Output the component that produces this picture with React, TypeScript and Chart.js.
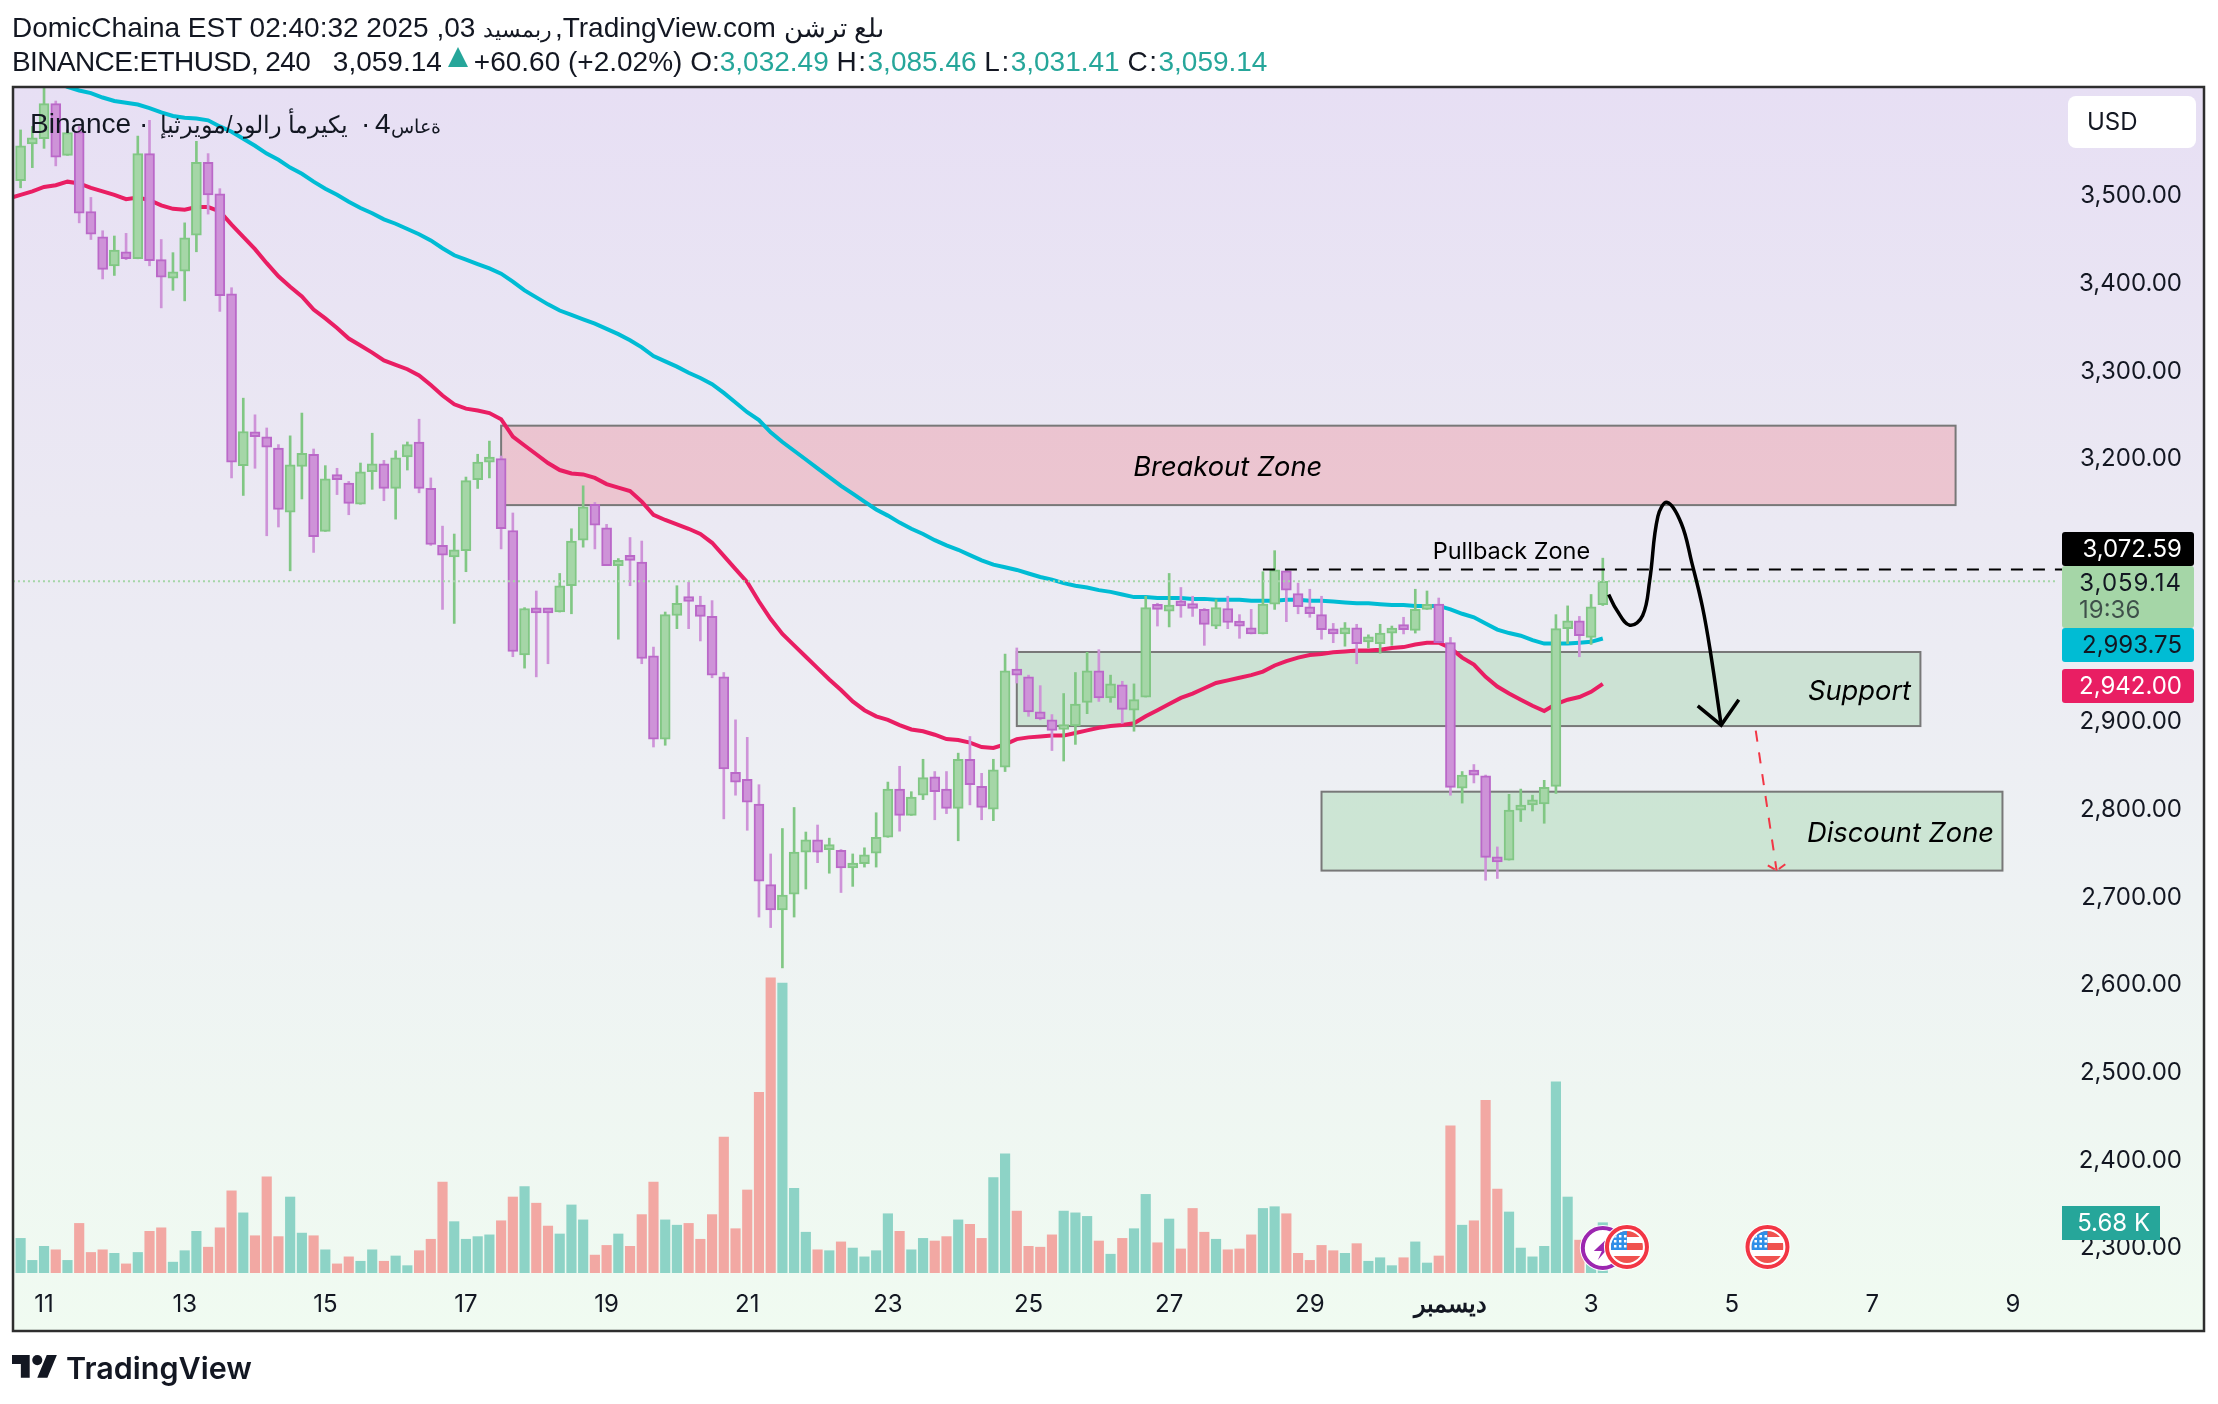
import React, { useEffect, useRef } from 'react'
import { Chart, registerables } from 'chart.js'

Chart.register(...registerables)

// 4h candles, bar 0 is two bars before the "11" tick
const opens = [
  3516,3558,3564,3604,3545,3572,3481,3452,3419,3435,
  3427,3547,3426,3405,3413,3454,3537,3501,3387,3191,
  3226,3224,3211,3138,3190,3204,3116,3177,3171,3147,
  3184,3193,3165,3201,3218,3165,3100,3087,3094,3175,
  3195,3199,3117,2975,3028,3024,3024,3054,3106,3147,
  3120,3077,3084,3081,2974,2879,3020,3037,3032,3019,
  2950,2841,2833,2805,2713,2684,2702,2750,2764,2753,
  2752,2732,2737,2749,2767,2822,2792,2815,2836,2822,
  2800,2856,2825,2799,2847,2959,2950,2910,2901,2890,
  2894,2921,2957,2926,2941,2912,2927,3028,3025,3033,
  3031,3027,3008,3028,3013,3006,2999,3033,3071,3045,
  3030,3021,3003,2999,3006,2990,2988,3000,3005,3003,
  3027,3033,2989,2823,2840,2837,2744,2741,2798,2804,
  2805,2825,3005,3014,2995,3032.49,
]
const highs = [
  3574,3578,3630,3607,3574,3578,3497,3459,3453,3456,
  3567,3585,3449,3434,3468,3561,3547,3507,3394,3268,
  3249,3234,3215,3225,3251,3210,3191,3188,3173,3194,
  3228,3197,3208,3218,3244,3177,3122,3113,3178,3204,
  3219,3202,3137,3029,3048,3028,3068,3119,3168,3149,
  3124,3085,3109,3105,2984,3024,3054,3058,3042,3037,
  2955,2901,2881,2827,2748,2777,2801,2773,2781,2766,
  2753,2748,2755,2795,2830,2848,2819,2856,2842,2842,
  2863,2882,2840,2856,2976,2983,2952,2940,2907,2931,
  2955,2978,2981,2952,2945,2942,3042,3034,3068,3052,
  3042,3028,3038,3042,3021,3027,3070,3094,3072,3057,
  3050,3042,3011,3012,3010,2998,3010,3008,3018,3050,
  3048,3040,2995,2842,2850,2838,2756,2816,2822,2815,
  2832,3021,3031,3019,3044,3085.46,
]
const lows = [
  3508,3531,3553,3533,3545,3468,3449,3404,3408,3426,
  3427,3419,3371,3391,3379,3435,3478,3367,3177,3157,
  3188,3111,3121,3071,3153,3092,3116,3158,3135,3147,
  3164,3151,3130,3186,3160,3100,3027,3011,3070,3165,
  3177,3096,2973,2960,2950,2965,3024,3022,3098,3096,
  3077,2993,3054,2965,2870,2872,3005,3005,2991,2949,
  2788,2815,2775,2676,2664,2618,2676,2708,2738,2726,
  2704,2711,2733,2733,2767,2774,2792,2810,2787,2794,
  2763,2804,2787,2786,2842,2943,2905,2901,2866,2854,
  2873,2908,2922,2921,2897,2888,2927,3008,3007,3018,
  3019,2986,3005,3005,2994,2999,2999,3027,3013,3022,
  3018,2993,2989,2985,2965,2983,2977,2986,2999,3000,
  3027,2989,2815,2806,2829,2718,2720,2741,2785,2797,
  2783,2817,2988,2973,2987,3031.41,
]
const closes = [
  3556,3565,3604,3543,3571,3479,3455,3415,3437,3427,
  3547,3425,3406,3412,3451,3537,3500,3385,3195,3230,
  3224,3212,3141,3192,3205,3110,3176,3175,3148,3184,
  3193,3165,3200,3215,3165,3101,3089,3095,3174,3195,
  3200,3119,2979,3028,3023,3023,3054,3105,3144,3123,
  3077,3083,3083,2971,2879,3021,3034,3036,3019,2952,
  2845,2830,2807,2717,2684,2701,2750,2764,2750,2754,
  2732,2737,2747,2767,2822,2792,2813,2835,2819,2800,
  2856,2827,2801,2844,2957,2952,2910,2902,2889,2893,
  2919,2957,2926,2942,2913,2924,3029,3027,3032,3031,
  3028,3010,3029,3012,3008,2999,3033,3072,3049,3030,
  3022,3004,2999,3006,2988,2992,3000,3005,3004,3027,
  3032,2989,2824,2838,2838,2744,2739,2798,2803,2806,
  2824,3005,3014,2997,3030,3059.14,
]
// volume in thousands
const volumes = [
  3.9,1.4,3.0,2.6,1.4,5.6,2.3,2.6,2.2,1.0,
  2.3,4.7,5.1,1.2,2.5,4.7,2.9,5.1,9.3,6.8,
  4.2,10.9,4.1,8.6,4.5,4.2,2.6,1.0,1.8,1.3,
  2.6,1.3,1.9,0.8,2.5,3.8,10.3,5.8,3.8,4.1,
  4.3,5.9,8.6,9.8,7.9,5.3,4.4,7.7,6.0,2.0,
  3.1,4.4,3.0,6.6,10.3,6.0,5.4,5.6,3.8,6.6,
  15.4,5.0,9.4,20.5,33.5,32.9,9.6,4.6,2.6,2.5,
  3.5,2.8,1.8,2.5,6.7,4.7,2.6,3.9,3.6,4.1,
  6.0,5.5,3.9,10.8,13.5,7.0,3.0,2.9,4.3,7.0,
  6.8,6.4,3.6,2.1,3.9,5.0,8.9,3.4,6.1,2.7,
  7.3,4.6,3.8,2.6,2.7,4.3,7.3,7.5,6.7,2.2,
  1.4,3.1,2.5,2.2,3.3,1.3,1.7,0.8,1.7,3.5,
  1.1,1.9,16.7,5.4,5.9,19.6,9.5,6.9,2.8,1.8,
  3.0,21.7,8.6,3.7,1.1,5.68,
]
// moving averages, first entry sits one bar before bar 0 so the line reaches the frame
const maFast = [
  3496,3500,3504,3509,3511,3515,3513,3508,3504,3500,3495,
  3497,3494,3488,3484,3483,3486,3486,3481,3466,3452,
  3438,3422,3407,3395,3384,3369,3359,3348,3336,3328,
  3320,3311,3306,3301,3294,3283,3271,3261,3256,3254,
  3251,3244,3224,3214,3204,3194,3186,3182,3181,3177,
  3170,3166,3162,3150,3135,3129,3124,3119,3113,3103,
  3088,3073,3058,3036,3016,2999,2986,2973,2960,2947,
  2935,2922,2912,2905,2901,2895,2890,2888,2884,2879,
  2878,2875,2870,2869,2873,2879,2881,2882,2883,2883,
  2886,2889,2892,2894,2895,2897,2905,2912,2919,2926,
  2931,2937,2943,2946,2949,2952,2956,2963,2968,2972,
  2975,2976,2978,2979,2980,2980,2981,2983,2984,2987,
  2989,2989,2983,2972,2964,2950,2939,2931,2924,2917,
  2911,2919,2924,2927,2933,2942,
]
const maSlow = [
  3670,3660,3650,3640,3630,3623,3619,3616,3611,3607,3605,
  3603,3599,3594,3590,3588,3587,3585,3578,3572,3564,
  3556,3547,3540,3531,3524,3515,3507,3500,3492,3485,
  3479,3472,3467,3461,3455,3448,3439,3431,3426,3421,
  3416,3410,3401,3391,3383,3375,3368,3363,3358,3353,
  3347,3341,3334,3326,3316,3310,3304,3297,3291,3284,
  3274,3263,3252,3243,3229,3218,3208,3198,3188,3178,
  3168,3159,3150,3141,3134,3126,3119,3113,3106,3100,
  3095,3089,3083,3078,3075,3072,3068,3064,3061,3057,
  3054,3052,3049,3047,3044,3041,3041,3040,3040,3040,
  3039,3039,3038,3038,3038,3037,3037,3037,3038,3038,
  3037,3037,3036,3035,3034,3034,3033,3032,3032,3031,
  3031,3031,3027,3022,3018,3011,3004,3000,2997,2992,
  2988,2988,2988,2989,2990,2993.75,
]

const priceTicks = [3500, 3400, 3300, 3200, 2900, 2800, 2700, 2600, 2500, 2400, 2300]
const dateTickBars = [2, 14, 26, 38, 50, 62, 74, 86, 98, 110, 122, 134, 146, 158, 170]
const dateTickLabels = ['11', '13', '15', '17', '19', '21', '23', '25', '27', '29', 'ديسمبر', '3', '5', '7', '9']

const zoneNames = ['Breakout Zone', 'Support', 'Discount Zone']
const zoneStartBars = [41, 85, 111]
const zoneEndBars = [165.1, 162.1, 169.1]
const zoneTops = [3236.6, 2978.4, 2819]
const zoneBottoms = [3146, 2893.9, 2729]
const zoneTextBars = [103, 156.9, 160.4]
const zoneTextPrices = [3188.5, 2933, 2771]

const curveBars = [135.5, 136.2, 137.3, 138.4, 139, 139.7, 140.5, 141.7, 142.6, 143.5, 144.2, 145.1]
const curvePrices = [3044, 3026, 3009, 3020, 3060, 3133, 3149, 3125, 3080, 3030, 2977, 2895]
const headBars = [143.1, 145.1, 146.6]
const headPrices = [2917, 2895, 2924]
const targetBars = [148.05, 149.83]
const targetPrices = [2888.6, 2729]
const targetHeadBars = [149.08, 149.83, 150.85]
const targetHeadPrices = [2735, 2729, 2739]

const lastPrice = 3059.14
const pullbackPrice = 3072.59
const eventBars = [137.06, 149.05]

const W = 2218
const H = 1404
const FRAME = { left: 13, top: 87, right: 2204, bottom: 1331 }
const TEXT = '#131722'
const TEAL = '#26a69a'
const INTER = 'Inter, "Noto Sans", sans-serif'

const money = (v: number) =>
  v.toLocaleString('en-US', { minimumFractionDigits: 2, maximumFractionDigits: 2 })

const rising = (i: number) => closes[i] >= opens[i]

function priceTag(ctx: any, top: number, h: number, fill: string, color: string, label: string) {
  ctx.fillStyle = fill
  ctx.beginPath()
  ctx.roundRect(2062, top, 132, h, 3)
  ctx.fill()
  ctx.fillStyle = color
  ctx.textAlign = 'right'
  ctx.textBaseline = 'middle'
  ctx.fillText(label, 2182, top + 18)
}

function flagIcon(ctx: any, cx: number, cy: number) {
  ctx.save()
  ctx.fillStyle = '#ffffff'
  ctx.beginPath()
  ctx.arc(cx, cy, 23, 0, Math.PI * 2)
  ctx.fill()
  ctx.strokeStyle = '#f23645'
  ctx.lineWidth = 4
  ctx.beginPath()
  ctx.arc(cx, cy, 20, 0, Math.PI * 2)
  ctx.stroke()
  ctx.beginPath()
  ctx.arc(cx, cy, 16, 0, Math.PI * 2)
  ctx.clip()
  ctx.fillStyle = '#f0524f'
  ctx.fillRect(cx - 16, cy - 16, 32, 6)
  ctx.fillRect(cx - 16, cy - 4, 32, 7)
  ctx.fillRect(cx - 16, cy + 9, 32, 7)
  ctx.fillStyle = '#2f8fe8'
  ctx.fillRect(cx - 16, cy - 16, 16, 19)
  ctx.fillStyle = '#ffffff'
  for (let r = 0; r < 3; r++) {
    for (let c = 0; c < 3; c++) {
      ctx.fillRect(cx - 13 + c * 5, cy - 12 + r * 5, 2.5, 2.5)
    }
  }
  ctx.restore()
}

function boltIcon(ctx: any, cx: number, cy: number) {
  ctx.save()
  ctx.fillStyle = '#ffffff'
  ctx.beginPath()
  ctx.arc(cx, cy, 23, 0, Math.PI * 2)
  ctx.fill()
  ctx.strokeStyle = '#9c27b0'
  ctx.lineWidth = 4
  ctx.beginPath()
  ctx.arc(cx, cy, 20, 0, Math.PI * 2)
  ctx.stroke()
  ctx.fillStyle = '#9c27b0'
  ctx.beginPath()
  ctx.moveTo(cx + 7, cy - 12)
  ctx.lineTo(cx - 9, cy + 3)
  ctx.lineTo(cx - 1, cy + 3)
  ctx.lineTo(cx - 5, cy + 12)
  ctx.lineTo(cx + 8, cy - 3)
  ctx.lineTo(cx + 1, cy - 3)
  ctx.closePath()
  ctx.fill()
  ctx.restore()
}

const backdrop = {
  id: 'backdrop',
  beforeDraw(chart: any) {
    const { ctx } = chart
    const g = ctx.createLinearGradient(0, FRAME.top, 0, FRAME.bottom)
    g.addColorStop(0, '#e7dff4')
    g.addColorStop(0.35, '#ebe9f3')
    g.addColorStop(0.65, '#eef2f3')
    g.addColorStop(1, '#f0fbf1')
    ctx.fillStyle = g
    ctx.fillRect(FRAME.left, FRAME.top, FRAME.right - FRAME.left, FRAME.bottom - FRAME.top)
  },
  beforeDatasetsDraw(chart: any) {
    const { ctx, scales } = chart
    zoneNames.forEach((_, i) => {
      const x0 = scales.x.getPixelForValue(zoneStartBars[i])
      const x1 = scales.x.getPixelForValue(zoneEndBars[i])
      const y0 = scales.y.getPixelForValue(zoneTops[i])
      const y1 = scales.y.getPixelForValue(zoneBottoms[i])
      ctx.fillStyle = i === 0 ? 'rgba(238,92,104,0.25)' : 'rgba(109,194,120,0.25)'
      ctx.fillRect(x0, y0, x1 - x0, y1 - y0)
      ctx.strokeStyle = '#787878'
      ctx.lineWidth = 2
      ctx.strokeRect(x0, y0, x1 - x0, y1 - y0)
    })
  },
}

const overlay = {
  id: 'overlay',
  afterDraw(chart: any) {
    const { ctx, scales } = chart
    ctx.save()

    // zone captions
    ctx.fillStyle = '#000000'
    ctx.textAlign = 'center'
    ctx.textBaseline = 'middle'
    ctx.font = `italic 27.3px ${INTER}`
    zoneNames.forEach((name, i) => {
      ctx.fillText(name, scales.x.getPixelForValue(zoneTextBars[i]), scales.y.getPixelForValue(zoneTextPrices[i]))
    })
    ctx.font = `23.5px ${INTER}`
    ctx.fillText('Pullback Zone', scales.x.getPixelForValue(127.2), scales.y.getPixelForValue(3092.8))

    // events sitting on the time axis
    boltIcon(ctx, scales.x.getPixelForValue(135), 1248)
    eventBars.forEach(b => flagIcon(ctx, scales.x.getPixelForValue(b), 1247))

    // price tags on the right scale
    ctx.font = `24px ${INTER}`
    priceTag(ctx, 532, 34, '#000000', '#ffffff', money(pullbackPrice))
    ctx.letterSpacing = '1px'
    priceTag(ctx, 566, 62, '#a5d6a7', TEXT, money(lastPrice))
    ctx.letterSpacing = '0px'
    ctx.fillStyle = 'rgba(19,23,34,0.7)'
    ctx.textAlign = 'left'
    ctx.fillText('19:36', 2079, 611)
    priceTag(ctx, 628, 34, '#00bcd4', TEXT, money(maSlow[maSlow.length - 1]))
    priceTag(ctx, 669, 34, '#e91e63', '#ffffff', money(maFast[maFast.length - 1]))

    // volume tag
    ctx.fillStyle = TEAL
    ctx.fillRect(2062, 1206, 98, 34)
    ctx.fillStyle = '#ffffff'
    ctx.textAlign = 'right'
    ctx.fillText('5.68 K', 2150, 1224)

    // USD button
    ctx.fillStyle = '#ffffff'
    ctx.beginPath()
    ctx.roundRect(2068, 96, 128, 52, 8)
    ctx.fill()
    ctx.fillStyle = TEXT
    ctx.textAlign = 'left'
    ctx.fillText('USD', 2087, 123)

    ctx.strokeStyle = '#2e2e2e'
    ctx.lineWidth = 2.5
    ctx.strokeRect(FRAME.left, FRAME.top, FRAME.right - FRAME.left, FRAME.bottom - FRAME.top)
    ctx.restore()
  },
}

export default function App() {
  const canvasRef = useRef<HTMLCanvasElement | null>(null)

  useEffect(() => {
    document.body.style.margin = '0'
    if (!canvasRef.current) return

    const bars = opens.map((_, i) => i)
    const upOrDown = (up: string, down: string) => bars.map(i => (rising(i) ? up : down))
    const lineData = (xs: number[], ys: number[]) => xs.map((x, i) => ({ x, y: ys[i] }))
    const maBars = maFast.map((_, i) => i - 1)

    const chart = new Chart(canvasRef.current, {
      type: 'bar',
      data: {
        datasets: [
          {
            label: 'Volume',
            yAxisID: 'volume',
            order: 6,
            barThickness: 9.5,
            data: bars.map(i => ({ x: i, y: volumes[i] })),
            backgroundColor: upOrDown('#8dd3c6', '#f2a8a3'),
          },
          {
            type: 'line',
            label: 'MA slow',
            order: 5,
            data: lineData(maBars, maSlow),
            borderColor: '#00bcd4',
            borderWidth: 4,
            pointRadius: 0,
          },
          {
            type: 'line',
            label: 'MA fast',
            order: 5,
            data: lineData(maBars, maFast),
            borderColor: '#e91e63',
            borderWidth: 4,
            pointRadius: 0,
          },
          {
            label: 'Wicks',
            order: 4,
            barThickness: 2,
            data: bars.map(i => ({ x: i, y: [lows[i], highs[i]] })),
            backgroundColor: upOrDown('#81c784', '#ce93d8'),
          },
          {
            label: 'Bodies',
            order: 3,
            barThickness: 10,
            minBarLength: 5,
            borderWidth: 2,
            borderSkipped: false,
            data: bars.map(i => ({ x: i, y: [opens[i], closes[i]] })),
            backgroundColor: upOrDown('#a5d6a7', '#ce93d8'),
            borderColor: upOrDown('#81c784', '#ba68c8'),
          },
          {
            type: 'line',
            label: 'Last',
            order: 2,
            data: lineData([-0.65, 173.67], [lastPrice, lastPrice]),
            borderColor: '#a5d6a7',
            borderWidth: 2,
            borderDash: [2, 3],
            pointRadius: 0,
          },
          {
            type: 'line',
            label: 'Pullback',
            order: 2,
            data: lineData([106, 174.2], [pullbackPrice, pullbackPrice]),
            borderColor: '#000000',
            borderWidth: 2,
            borderDash: [12, 10],
            pointRadius: 0,
          },
          {
            type: 'line',
            label: 'Path',
            order: 1,
            data: lineData(curveBars, curvePrices),
            borderColor: '#000000',
            borderWidth: 3.5,
            tension: 0.4,
            pointRadius: 0,
          },
          {
            type: 'line',
            label: 'Path head',
            order: 1,
            data: lineData(headBars, headPrices),
            borderColor: '#000000',
            borderWidth: 3.5,
            pointRadius: 0,
          },
          {
            type: 'line',
            label: 'Target',
            order: 1,
            data: lineData(targetBars, targetPrices),
            borderColor: '#f23645',
            borderWidth: 2,
            borderDash: [11, 11],
            pointRadius: 0,
          },
          {
            type: 'line',
            label: 'Target head',
            order: 1,
            data: lineData(targetHeadBars, targetHeadPrices),
            borderColor: '#f23645',
            borderWidth: 2,
            borderDash: [8, 5],
            pointRadius: 0,
          },
        ] as any,
      },
      options: {
        responsive: false,
        animation: false,
        datasets: { bar: { grouped: false } },
        layout: { padding: { left: 13, top: 87, right: 36, bottom: 73 } },
        plugins: { legend: { display: false }, tooltip: { enabled: false } },
        scales: {
          x: {
            type: 'linear',
            offset: false,
            min: -0.648,
            max: 174.18,
            grid: { display: false, drawTicks: false },
            border: { display: false },
            afterBuildTicks: (axis: any) => {
              axis.ticks = dateTickBars.map(value => ({ value }))
            },
            afterFit: (axis: any) => {
              axis.height = 41
              axis.paddingLeft = 0
              axis.paddingRight = 0
            },
            ticks: {
              autoSkip: false,
              maxRotation: 0,
              padding: 0,
              color: TEXT,
              font: (c: any) => ({
                family: INTER,
                size: 24,
                weight: c.tick && c.tick.value === 122 ? 'bold' : 'normal',
              }),
              callback: (v: any) => dateTickLabels[dateTickBars.indexOf(v)],
            },
          },
          y: {
            position: 'right',
            min: 2250.5,
            max: 3623,
            grid: { display: false, drawTicks: false },
            border: { display: false },
            afterBuildTicks: (axis: any) => {
              axis.ticks = priceTicks.map(value => ({ value }))
            },
            afterFit: (axis: any) => {
              axis.width = 120
            },
            ticks: {
              crossAlign: 'far',
              labelOffset: 1.4,
              color: TEXT,
              font: { family: INTER, size: 24 },
              callback: (v: any) => money(v),
            },
          },
          volume: { display: false, min: -1.966, max: 134.74 },
        },
      } as any,
      plugins: [backdrop, overlay],
    })

    return () => chart.destroy()
  }, [])

  const row: React.CSSProperties = {
    position: 'absolute',
    left: 12,
    whiteSpace: 'pre',
    font: '28px "Liberation Sans", Arial, sans-serif',
    color: TEXT,
    unicodeBidi: 'bidi-override',
    direction: 'ltr',
  }
  const teal = { color: TEAL }
  const key = { letterSpacing: 1.5 }

  return (
    <div style={{ position: 'absolute', left: 0, top: 0, width: W, height: H, background: '#ffffff', overflow: 'hidden' }}>
      <canvas ref={canvasRef} width={W} height={H} style={{ display: 'block' }} />
      <div style={{ ...row, top: 12 }}>
        DomicChaina EST 02:40:32 2025 ,03 <span style={{ fontSize: 22 }}>ديسمبر</span><span style={{ marginLeft: -5 }}> ,TradingView.com </span><span style={{ fontSize: 26 }}>نشرت على</span>
      </div>
      <div style={{ ...row, top: 46 }}>
        <span style={{ letterSpacing: -0.6, marginRight: 7 }}>BINANCE:ETHUSD, 240</span>  3,059.14
        <span style={{ display: 'inline-block', width: 0, height: 0, margin: '0 6px 0 6px', borderLeft: '10px solid transparent', borderRight: '10px solid transparent', borderBottom: `20px solid ${TEAL}`, verticalAlign: 4 }} />
        +60.60 (+2.02%) O:<span style={teal}>3,032.49</span> <span style={key}>H:</span><span style={teal}>3,085.46</span> <span style={key}>L:</span><span style={teal}>3,031.41</span> <span style={key}>C:</span><span style={teal}>3,059.14</span>
      </div>
      <div style={{ ...row, left: 30, top: 108 }}>
        Binance · <span style={{ fontSize: 23.5, marginLeft: 4, marginRight: 5 }}>إيثريوم/دولار أمريكي</span> · <span style={{ marginLeft: -3 }}>4</span><span style={{ fontSize: 19 }}>ساعة</span>
      </div>
      <svg style={{ position: 'absolute', left: 11.5, top: 1350 }} width={45.5} height={35.4} viewBox="0 0 36 28">
        <path fill={TEXT} d="M14 22H7V11H0V4h14v18zM28 22h-8l7.5-18h8L28 22z" />
        <circle fill={TEXT} cx="20" cy="8" r="4" />
      </svg>
      <div style={{ position: 'absolute', left: 66, top: 1349, font: `600 30.5px ${INTER}`, color: TEXT }}>TradingView</div>
    </div>
  )
}
